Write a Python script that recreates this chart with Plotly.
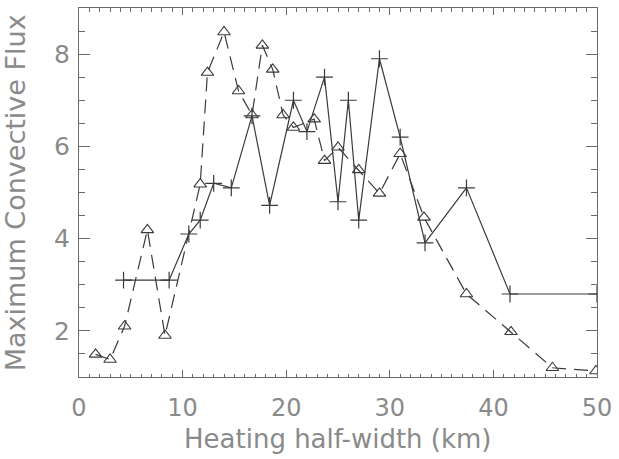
import plotly.graph_objects as go

# Series A: solid line with "+" markers
xa = [4.3, 8.7, 10.6, 11.7, 13.0, 14.7, 16.7, 18.4, 20.7, 22.0, 23.7, 25.0, 26.0, 27.0, 29.0, 31.0, 33.4, 37.4, 41.6, 50.0]
ya = [3.1, 3.1, 4.1, 4.4, 5.2, 5.1, 6.66, 4.72, 7.0, 6.32, 7.5, 4.8, 7.0, 4.4, 7.9, 6.2, 3.91, 5.1, 2.8, 2.8]

# Series B: dashed line with triangle markers
xb = [1.6, 3.0, 4.4, 6.6, 8.3, 11.7, 12.4, 14.0, 15.4, 16.7, 17.7, 18.7, 19.7, 20.7, 22.7, 23.7, 25.0, 27.0, 29.0, 31.0, 33.3, 37.4, 41.7, 45.7, 49.9]
yb = [1.49, 1.38, 2.1, 4.19, 1.9, 5.18, 7.6, 8.48, 7.2, 6.68, 8.19, 7.67, 6.68, 6.41, 6.59, 5.69, 5.98, 5.49, 4.98, 5.84, 4.46, 2.8, 1.98, 1.2, 1.13]

xticks = [0, 10, 20, 30, 40, 50]
yticks = [2, 4, 6, 8]
xtitle = "Heating half-width (km)"
ytitle = "Maximum Convective Flux"

line_col = "#3a3a3a"
axis_col = "#6a6a6a"
text_col = "#8a8a8a"

fig = go.Figure()
fig.add_trace(go.Scatter(
    x=xa, y=ya, mode="lines+markers",
    line=dict(color=line_col, width=1.2),
    marker=dict(symbol="cross-thin-open", size=12, line=dict(color=line_col, width=1.2)),
    showlegend=False,
))
fig.add_trace(go.Scatter(
    x=xb, y=yb, mode="lines+markers",
    line=dict(color=line_col, width=1.2, dash="14px,8px"),
    marker=dict(symbol="triangle-up-open", size=11, color=line_col, line=dict(color=line_col, width=1.1)),
    showlegend=False,
))

fig.update_layout(
    width=619, height=459,
    margin=dict(l=79, r=16, t=7, b=82),
    paper_bgcolor="white", plot_bgcolor="white",
    font=dict(family="DejaVu Sans", color=text_col),
    annotations=[
        dict(text=xtitle, xref="paper", yref="paper", x=0.5, y=-0.168,
             xanchor="center", yanchor="middle", showarrow=False,
             font=dict(size=26, color=text_col)),
        dict(text=ytitle, xref="paper", yref="paper", x=-0.122, y=0.5,
             xanchor="center", yanchor="middle", showarrow=False, textangle=-90,
             font=dict(size=27, color=text_col)),
    ],
)
fig.update_xaxes(
    range=[0, 50], tickvals=xticks, ticktext=[str(v) for v in xticks],
    showgrid=False, zeroline=False,
    showline=True, linecolor=axis_col, linewidth=1, mirror="allticks",
    ticks="inside", ticklen=7, tickcolor=axis_col, tickwidth=1,
    minor=dict(dtick=1, ticks="inside", ticklen=3.5, tickcolor=axis_col, tickwidth=1, showgrid=False),
    tickfont=dict(size=24, color=text_col),
    ticklabelstandoff=9,
    ticklabeloverflow="allow",
)
fig.update_yaxes(
    range=[1, 9], tickvals=yticks, ticktext=[str(v) for v in yticks],
    showgrid=False, zeroline=False,
    showline=True, linecolor=axis_col, linewidth=1, mirror="allticks",
    ticks="inside", ticklen=11, tickcolor=axis_col, tickwidth=1,
    minor=dict(dtick=0.5, ticks="inside", ticklen=6, tickcolor=axis_col, tickwidth=1, showgrid=False),
    tickfont=dict(size=25, color=text_col),
    ticklabelstandoff=3,
)

fig.write_html("out.html")
